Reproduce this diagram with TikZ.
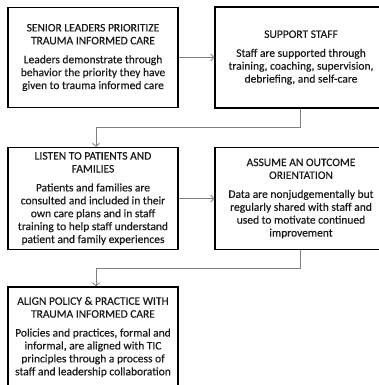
\documentclass[tikz,border=0pt]{standalone}
\usepackage{fontspec}
\setmainfont{Carlito}
\newfontfamily\boxfont{Carlito}[FakeBold=0.35]
\usetikzlibrary{arrows.meta}
\definecolor{conngray}{HTML}{7F7F7F}
\definecolor{txt}{HTML}{1A1A1A}
\tikzset{
  box/.style={draw=black, line width=1.4pt, fill=white, align=center,
    minimum width=170pt, minimum height=100pt, inner sep=0pt,
    text=txt, font=\boxfont\fontsize{11.5}{12.9}\selectfont},
  conn/.style={draw=conngray, line width=0.9pt,
    -{Straight Barb[length=3pt,width=7pt,line width=0.8pt]}},
}
\begin{document}
\begin{tikzpicture}[x=1pt,y=1pt]
\useasboundingbox (0,0) rectangle (379,-385);
\clip (0,0) rectangle (379,-385);
\fill[white] (0,0) rectangle (379,-385);
\node[box] (b1) at (93,-57.5) {SENIOR LEADERS PRIORITIZE\\TRAUMA INFORMED CARE\\[6pt]Leaders demonstrate through\\behavior the priority they have\\given to trauma informed care};
\node[box, minimum width=172pt, minimum height=101pt] (b2) at (301,-57.5) {SUPPORT STAFF\\[6pt]Staff are supported through\\training, coaching, supervision,\\debriefing, and self-care};
\node[box, minimum height=102pt] (b3) at (93,-198.5) {LISTEN TO PATIENTS AND\\FAMILIES\\[6pt]Patients and families are\\consulted and included in their\\own care plans and in staff\\training to help staff understand\\patient and family experiences};
\node[box, minimum width=172pt, minimum height=102pt] (b4) at (301,-198.5) {ASSUME AN OUTCOME\\ORIENTATION\\[6pt]Data are nonjudgementally but\\regularly shared with staff and\\used to motivate continued\\improvement};
\node[box] (b5) at (93,-337) {ALIGN POLICY \& PRACTICE WITH\\TRAUMA INFORMED CARE\\[6pt]Policies and practices, formal and\\informal, are aligned with TIC\\principles through a process of\\staff and leadership collaboration};
\coordinate (t1) at (300,-127);
\coordinate (t2) at (300,-268);
\draw[conn] (b1.east) -- (b2.west);
\draw[conn] (b2.south -| t1) -- (t1) -| ([xshift=3pt]b3.north);
\draw[conn] (b3.east) -- (b4.west);
\draw[conn] (b4.south -| t2) -- (t2) -| ([xshift=3pt]b5.north);
\end{tikzpicture}
\end{document}
